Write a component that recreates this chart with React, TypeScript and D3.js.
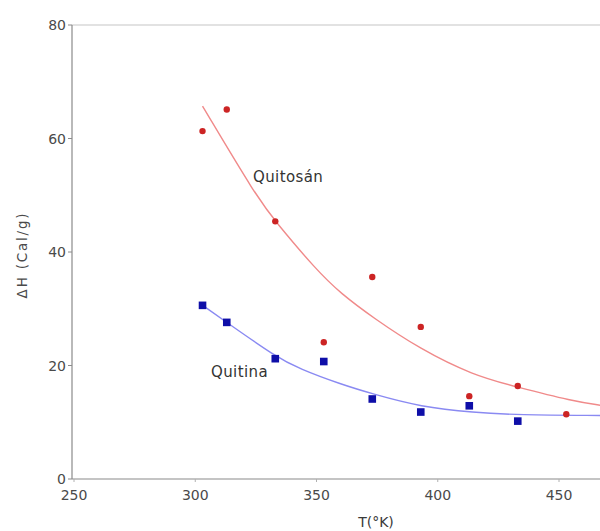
import React from "react";
import * as d3 from "d3";

const tempK = [303, 313, 333, 353, 373, 393, 413, 433, 453];
const quitosan = [61.3, 65.1, 45.4, 24.1, 35.6, 26.8, 14.6, 16.4, 11.4];
const quitina = [30.6, 27.6, 21.2, 20.7, 14.1, 11.8, 12.9, 10.2];

const quitosanFitX = [303, 325.5, 333, 350, 360, 373.4, 392.7, 414.5, 432.6, 455.8, 467];
const quitosanFitY = [65.7, 49.6, 45.4, 36.8, 32.7, 28.4, 22.9, 18.3, 16.2, 13.7, 13.0];
const quitinaFitX = [303, 313, 333, 343, 360, 373, 393, 415, 433, 467];
const quitinaFitY = [30.6, 27.6, 21.6, 19.4, 16.7, 15.0, 12.7, 11.7, 11.3, 11.2];

const xTicks = [250, 300, 350, 400, 450];
const yTicks = [0, 20, 40, 60, 80];

const W = 600;
const H = 531;

export default function App() {
  const x = d3.scaleLinear().domain([250, 450]).range([74, 559]);
  const y = d3.scaleLinear().domain([0, 80]).range([479, 25]);
  const line = d3
    .line<[number, number]>()
    .x((d) => x(d[0]))
    .y((d) => y(d[1]))
    .curve(d3.curveBasis);
  const redFit = line(quitosanFitX.map((v, i) => [v, quitosanFitY[i]] as [number, number])) || "";
  const blueFit = line(quitinaFitX.map((v, i) => [v, quitinaFitY[i]] as [number, number])) || "";
  const axisX = x(250) - 2;
  const font = "'DejaVu Sans', Verdana, sans-serif";
  return (
    <svg
      width={W}
      height={H}
      style={{ position: "absolute", left: 0, top: 0, background: "#fff" }}
    >
      <rect x={0} y={0} width={W} height={H} fill="#ffffff" />
      <line x1={axisX} x2={W} y1={y(80)} y2={y(80)} stroke="#d8d8d8" strokeWidth={1.5} />
      <line x1={axisX} x2={axisX} y1={y(80)} y2={y(0)} stroke="#8a8a8a" strokeWidth={1.2} />
      <line x1={axisX} x2={W} y1={y(0)} y2={y(0)} stroke="#8a8a8a" strokeWidth={1.2} />
      {yTicks.map((t) => (
        <g key={"y" + t}>
          <line x1={axisX - 4} x2={axisX} y1={y(t)} y2={y(t)} stroke="#8a8a8a" />
          <text
            x={axisX - 6}
            y={y(t)}
            dy="0.36em"
            textAnchor="end"
            fontFamily={font}
            fontSize={14}
            fill="#4a4a4a"
          >
            {t}
          </text>
        </g>
      ))}
      {xTicks.map((t) => (
        <g key={"x" + t}>
          <line x1={x(t)} x2={x(t)} y1={y(0)} y2={y(0) + 3} stroke="#b0b0b0" />
          <text
            x={x(t)}
            y={500}
            textAnchor="middle"
            fontFamily={font}
            fontSize={14}
            fill="#4a4a4a"
          >
            {t}
          </text>
        </g>
      ))}
      <text
        x={376}
        y={527}
        textAnchor="middle"
        fontFamily={font}
        fontSize={14}
        fill="#3a3a3a"
      >
        T(°K)
      </text>
      <text
        transform={`translate(27,255) rotate(-90)`}
        textAnchor="middle"
        fontFamily={font}
        fontSize={13.5}
        letterSpacing={1.8}
        fill="#4a4a4a"
      >
        ΔH  (Cal/g)
      </text>
      <path d={redFit} fill="none" stroke="#f08a8a" strokeWidth={1.4} />
      <path d={blueFit} fill="none" stroke="#8a8af2" strokeWidth={1.4} />
      {quitosan.map((v, i) => (
        <circle key={"r" + i} cx={x(tempK[i])} cy={y(v)} r={3.2} fill="#cc2424" />
      ))}
      {quitina.map((v, i) => (
        <rect
          key={"b" + i}
          x={x(tempK[i]) - 3.8}
          y={y(v) - 3.8}
          width={7.6}
          height={7.6}
          fill="#0e0ea8"
        />
      ))}
      <text x={253} y={182} fontFamily={font} fontSize={15} letterSpacing={0.4} fill="#333">
        Quitosán
      </text>
      <text x={211} y={377} fontFamily={font} fontSize={15} letterSpacing={0.4} fill="#333">
        Quitina
      </text>
    </svg>
  );
}
